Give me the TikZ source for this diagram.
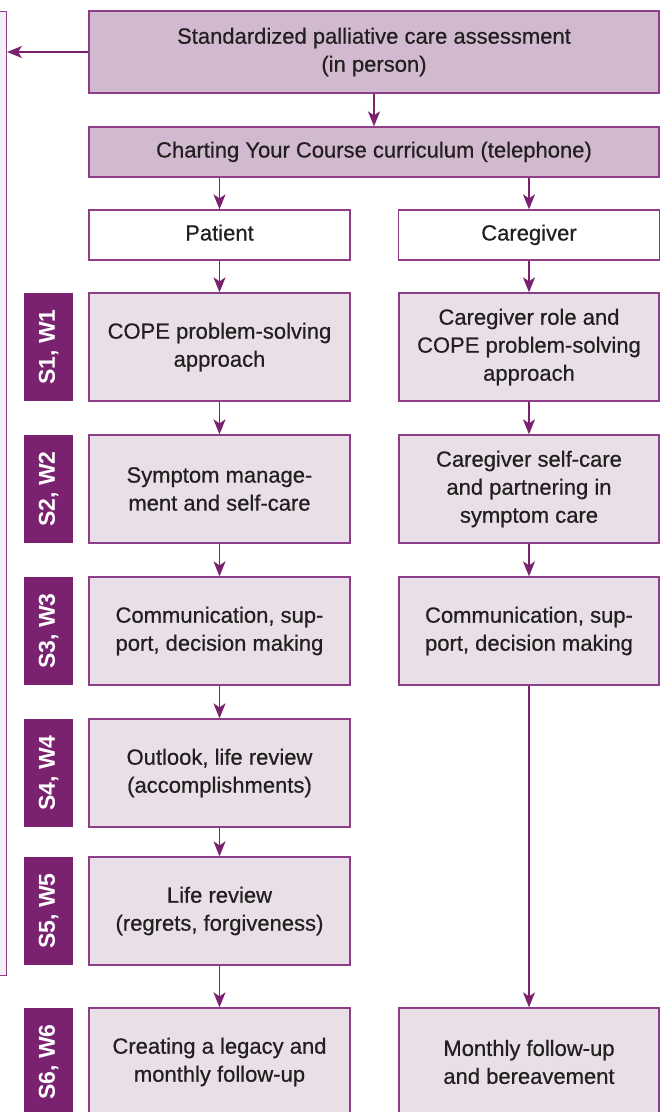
\documentclass[tikz,border=0pt]{standalone}
\usepackage{fontspec}
\setmainfont{Liberation Sans}
\newfontfamily\boxfont[FakeBold=0.6]{Liberation Sans}
\usetikzlibrary{arrows.meta}
\definecolor{plum}{HTML}{7A2270}
\definecolor{edgec}{HTML}{8C3F88}
\definecolor{headf}{HTML}{D1BACF}
\definecolor{boxf}{HTML}{E8DFE7}
\definecolor{sidef}{HTML}{F4EEF5}
\definecolor{ink}{HTML}{231F20}
\tikzset{
  base/.style={draw=edgec, line width=1.3pt, text=ink, align=center, inner sep=0pt,
    font=\boxfont\fontsize{22}{28}\selectfont},
  headbox/.style={base, fill=headf, minimum width=570pt},
  oneline/.style={text height=16pt, text depth=5pt},
  whitebox/.style={base, oneline, fill=white, minimum width=261pt, minimum height=50pt},
  stepbox/.style={base, fill=boxf, minimum width=261pt, minimum height=108pt},
  tabbox/.style={fill=plum, text=white, rotate=90, minimum width=108pt, minimum height=49pt,
    inner sep=0pt, font=\fontsize{23}{28}\selectfont\bfseries},
  sidebox/.style={draw=edgec, line width=1.3pt, fill=sidef},
  arr/.style={draw=plum, line width=1.5pt, -{Stealth[length=15pt, width=12pt, inset=4pt]}}
}
\begin{document}
\begin{tikzpicture}[x=1pt, y=-1pt]
\useasboundingbox (0,0) rectangle (666,1112);
\fill[white] (0,0) rectangle (666,1112);
% side bar
\node[sidebox, anchor=north east, minimum width=40pt, minimum height=964pt, inner sep=0pt] (side) at (7,11) {};
% header boxes
\node[headbox, minimum height=82pt] (assess) at (374,52) {Standardized palliative care assessment\\(in person)};
\node[headbox, oneline, minimum height=50pt] (chart) at (374,152) {Charting Your Course curriculum (telephone)};
% column headers
\node[whitebox] (pat) at (219.5,235) {Patient};
\node[whitebox] (cg) at (529,235) {Caregiver};
% patient steps
\node[stepbox] (p1) at (219.5,347) {COPE problem-solving\\approach};
\node[stepbox] (p2) at (219.5,489) {Symptom manage-\\ment and self-care};
\node[stepbox] (p3) at (219.5,631) {Communication, sup-\\port, decision making};
\node[stepbox] (p4) at (219.5,773) {Outlook, life review\\(accomplishments)};
\node[stepbox] (p5) at (219.5,911) {Life review\\(regrets, forgiveness)};
\node[stepbox] (p6) at (219.5,1062) {Creating a legacy and\\monthly follow-up};
% caregiver steps
\node[stepbox, minimum width=260pt] (c1) at (529,347) {Caregiver role and\\COPE problem-solving\\approach};
\node[stepbox, minimum width=260pt] (c2) at (529,489) {Caregiver self-care\\and partnering in\\symptom care};
\node[stepbox, minimum width=260pt] (c3) at (529,631) {Communication, sup-\\port, decision making};
\node[stepbox, minimum width=260pt] (c6) at (529,1062) {Monthly follow-up\\and bereavement};
% tabs
\node[tabbox] (t1) at (48.5,347) {S1, W1};
\node[tabbox] (t2) at (48.5,489) {S2, W2};
\node[tabbox] (t3) at (48.5,631) {S3, W3};
\node[tabbox] (t4) at (48.5,773) {S4, W4};
\node[tabbox] (t5) at (48.5,911) {S5, W5};
\node[tabbox] (t6) at (48.5,1062) {S6, W6};
% connectors
\draw[arr] (assess.west) -- (assess.west -| side.east);
\draw[arr] (assess.south) -- (chart.north);
\draw[arr] (chart.south -| pat.north) -- (pat.north);
\draw[arr] (chart.south -| cg.north) -- (cg.north);
\draw[arr] (pat.south) -- (p1.north);
\draw[arr] (p1.south) -- (p2.north);
\draw[arr] (p2.south) -- (p3.north);
\draw[arr] (p3.south) -- (p4.north);
\draw[arr] (p4.south) -- (p5.north);
\draw[arr] (p5.south) -- (p6.north);
\draw[arr] (cg.south) -- (c1.north);
\draw[arr] (c1.south) -- (c2.north);
\draw[arr] (c2.south) -- (c3.north);
\draw[arr] (c3.south) -- (c6.north);
\end{tikzpicture}
\end{document}
